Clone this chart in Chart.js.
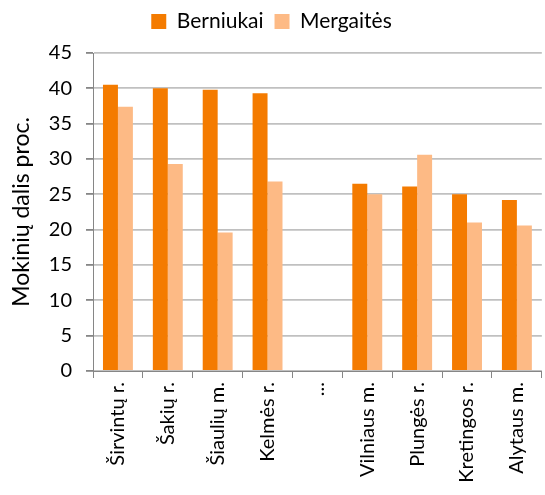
<!DOCTYPE html>
<html>
<head>
<meta charset="utf-8">
<script src="https://cdn.jsdelivr.net/npm/chart.js@4"></script>
<style>
  html, body { margin: 0; padding: 0; background: #fff; }
  #wrap { width: 545px; height: 495px; }
</style>
</head>
<body>
<div id="wrap"><canvas id="js_chart" width="545" height="495"></canvas></div>
<script>
const categories = ['Širvintų r.', 'Šakių r.', 'Šiaulių m.', 'Kelmės r.', '...', 'Vilniaus m.', 'Plungės r.', 'Kretingos r.', 'Alytaus m.'];
const boys = [40.5, 40.0, 39.8, 39.3, null, 26.5, 26.1, 25.0, 24.2];
const girls = [37.4, 29.3, 19.6, 26.8, null, 25.0, 30.6, 21.0, 20.6];
const yTicks = [0, 5, 10, 15, 20, 25, 30, 35, 40, 45];

const fontFamily = 'Lato, "Open Sans", sans-serif';
const axisColor = '#868686';

// a bit more room between the legend and the plot
const legendGap = {
  id: 'legendGap',
  beforeInit(chart) {
    const fit = chart.legend.fit;
    chart.legend.fit = function () {
      fit.bind(chart.legend)();
      this.height += 11;
    };
  },
};

const chart = new Chart(document.getElementById('js_chart'), {
  type: 'bar',
  data: {
    labels: categories,
    datasets: [
      { label: 'Berniukai', data: boys, backgroundColor: '#F47B00' },
      { label: 'Mergaitės', data: girls, backgroundColor: '#FDBA85' },
    ],
  },
  plugins: [legendGap],
  options: {
    responsive: false,
    animation: false,
    categoryPercentage: 0.6,
    barPercentage: 1,
    layout: { padding: { top: 0, right: 2, left: 0, bottom: 0 } },
    plugins: {
      legend: {
        position: 'top',
        labels: {
          color: '#000',
          font: { family: fontFamily, size: 21 },
          boxWidth: 15,
          boxHeight: 15,
          padding: 11,
        },
      },
      tooltip: { enabled: false },
    },
    scales: {
      x: {
        grid: { drawOnChartArea: false, color: axisColor, tickLength: 7, lineWidth: 1 },
        border: { color: axisColor, width: 1 },
        ticks: {
          color: '#000',
          font: { family: fontFamily, size: 20 },
          minRotation: 90,
          maxRotation: 90,
          autoSkip: false,
          padding: 4,
        },
        afterFit: (scale) => { scale.height = 124; },
      },
      y: {
        min: 0,
        max: 45,
        afterBuildTicks: (scale) => { scale.ticks = yTicks.map((v) => ({ value: v })); },
        grid: { color: '#C0C0C0', lineWidth: 1.8, tickLength: 7, tickColor: axisColor },
        border: { color: axisColor, width: 1 },
        ticks: {
          color: '#000',
          font: { family: fontFamily, size: 20 },
          padding: 14,
        },
        title: {
          display: true,
          text: 'Mokinių dalis proc.',
          color: '#000',
          font: { family: fontFamily, size: 23 },
          padding: { top: 8, bottom: 0 },
        },
        afterFit: (scale) => { scale.width = 93; },
      },
    },
  },
});
</script>
</body>
</html>
